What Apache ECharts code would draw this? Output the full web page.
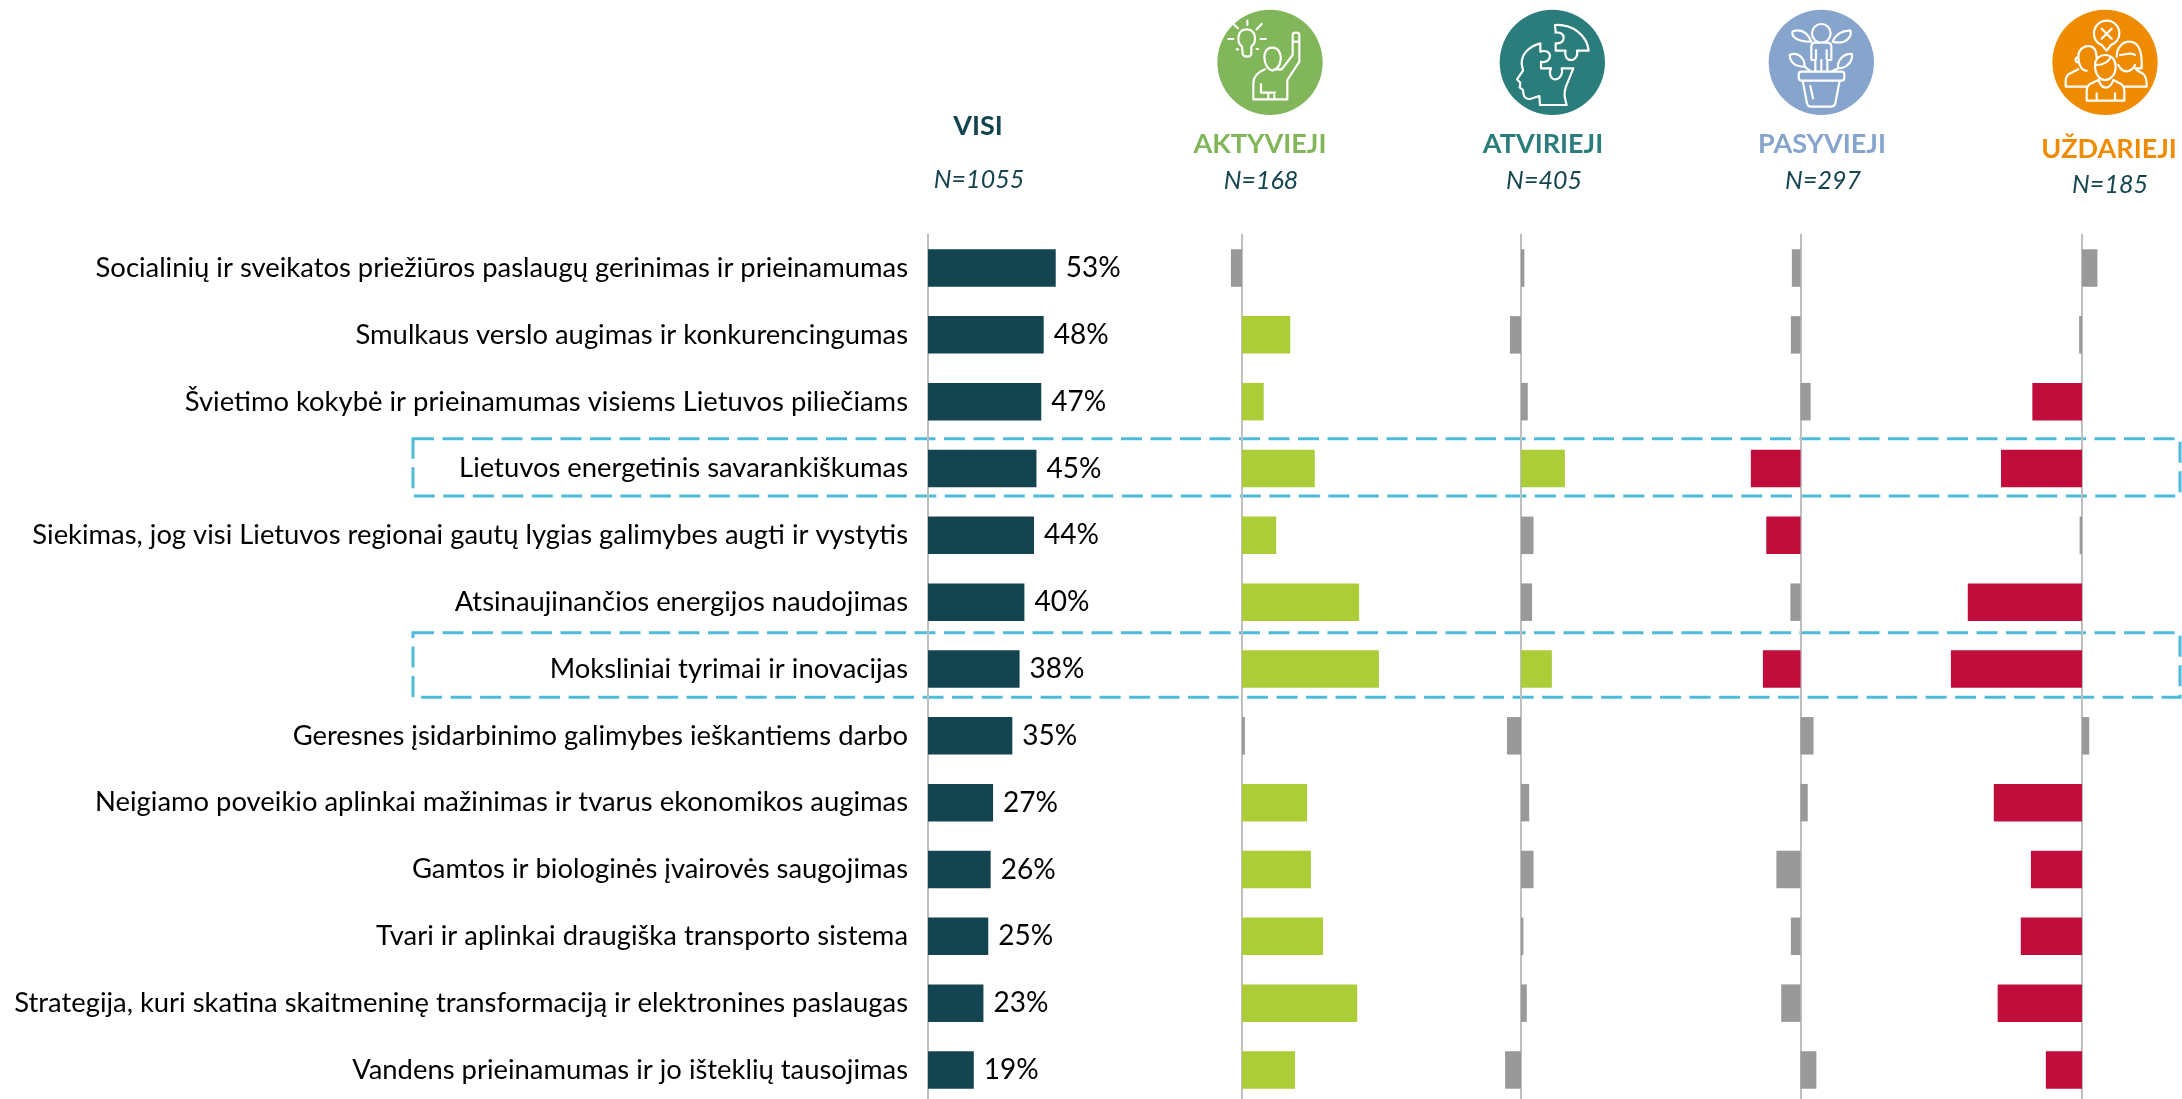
<!DOCTYPE html>
<html><head><meta charset="utf-8">
<style>html,body{margin:0;padding:0;background:#fff;overflow:hidden;height:1099px}#c{width:2182px;height:1120px}</style>
<script src="https://cdn.jsdelivr.net/npm/echarts@6/dist/echarts.min.js"></script>
</head><body><div id="c"></div>
<script>
const categories = [
 "Socialinių ir sveikatos priežiūros paslaugų gerinimas ir prieinamumas",
 "Smulkaus verslo augimas ir konkurencingumas",
 "Švietimo kokybė ir prieinamumas visiems Lietuvos piliečiams",
 "Lietuvos energetinis savarankiškumas",
 "Siekimas, jog visi Lietuvos regionai gautų lygias galimybes augti ir vystytis",
 "Atsinaujinančios energijos naudojimas",
 "Moksliniai tyrimai ir inovacijas",
 "Geresnes įsidarbinimo galimybes ieškantiems darbo",
 "Neigiamo poveikio aplinkai mažinimas ir tvarus ekonomikos augimas",
 "Gamtos ir biologinės įvairovės saugojimas",
 "Tvari ir aplinkai draugiška transporto sistema",
 "Strategija, kuri skatina skaitmeninę transformaciją ir elektronines paslaugas",
 "Vandens prieinamumas ir jo išteklių tausojimas"];
const visi      = [53,48,47,45,44,40,38,35,27,26,25,23,19];
const aktyvieji = [-2.3,10,4.5,15.1,7.1,24.3,28.4,0.6,13.5,14.3,16.8,23.9,11];
const atvirieji = [0.7,-2.3,1.4,9.1,2.6,2.3,6.4,-2.9,1.7,2.6,0.5,1.2,-3.3];
const pasyvieji = [-1.8,-2,2.1,-10.3,-7.1,-2.1,-7.8,2.7,1.5,-5,-2,-4,3.3];
const uzdarieji = [3.2,-0.6,-10.3,-16.8,-0.5,-23.7,-27.2,1.5,-18.3,-10.6,-12.7,-17.5,-7.5];

const FONT = 'Lato,"Liberation Sans",sans-serif';
const DARK = '#14444F', GREEN='#ACCC38', RED='#C00D3C', GREY='#999999', AXIS='#BFBFBF';
const GROW_TOP = 234.6, BAND = 66.83, GH = BAND*13;
const PX_VISI = 2.41, PX_DEV = 4.82;
const ICON_A="M96,140 C78,125 82,88 110,88 C138,88 142,125 124,140 L124,160 Q124,170 112,170 Q98,170 98,160 Z M55,117 H70 M152,117 H167 M66,68 L84,85 M112,62 V75 M155,72 L140,88 M80,148 H84 M140,147 H144 M187,143 C165,143 160,165 165,185 C168,198 175,208 187,212 C202,208 210,195 212,180 C214,160 205,143 187,143 Z M165,208 C140,218 130,232 130,250 L130,298 L232,298 L232,240 L268,185 L268,105 Q268,98 258,98 Q248,98 248,105 L248,165 L215,208 L195,208 M248,125 H268 M153,252 V278 H195 M175,278 V298 M193,285 V298";
const ICON_B="M180,75 C232,72 276,105 281,152 L246,152 C250,168 240,180 228,180 C214,180 208,165 212,152 L182,152 L182,130 C195,132 206,125 206,113 C206,102 195,96 182,98 Z M136,130 C105,138 80,160 80,190 C80,200 84,205 84,212 L66,238 L76,248 L74,262 L84,270 C84,285 88,298 105,297 L133,288 L135,315 L215,315 C210,295 205,285 212,262 L235,205 L200,205 C205,225 192,238 180,238 C168,238 160,222 168,205 L138,205 L138,185 C155,190 165,178 165,168 C165,155 150,150 136,155 Z";
const ICON_C="M150,100 A28,28 0 1,0 206,100 A28,28 0 1,0 150,100 Z M160,212 L160,180 L148,180 L148,140 Q148,128 160,128 L195,128 Q208,128 208,140 L208,180 L196,180 L196,212 M178,180 V212 M162,150 V178 M194,150 V178 M148,125 C135,125 110,125 95,110 C88,100 90,92 100,92 C125,88 140,105 148,125 Z M212,125 C220,105 240,90 265,92 C270,105 260,120 245,125 C235,128 222,128 212,125 Z M128,200 C100,200 85,190 83,165 C105,155 128,170 128,200 Z M128,200 L146,214 M228,205 C225,180 245,160 270,162 C272,185 255,205 228,205 Z M228,205 L210,214 M118,215 H240 Q247,215 247,225 V232 Q247,242 240,242 H118 Q110,242 110,232 V225 Q110,215 118,215 Z M122,242 L135,310 Q137,320 147,320 H205 Q218,320 220,310 L233,242 M145,258 L153,295";
const ICON_D="M170,135 C150,128 147,110 147,100 C147,78 165,62 185,62 C205,62 223,78 223,100 C223,120 210,130 198,135 L185,152 Z M170,86 L200,116 M200,86 L170,116 M100,170 C100,150 115,138 130,138 C148,138 155,155 155,175 M125,212 C110,212 100,195 100,170 M100,172 C90,172 88,185 100,188 M100,208 L72,222 Q62,228 62,245 L62,260 L125,260 M215,170 C215,140 235,125 252,125 C280,125 292,150 290,205 L270,205 M225,165 C240,165 258,155 270,165 M220,195 C235,225 260,215 270,195 M275,210 L295,222 Q305,230 305,260 L235,260 M150,195 C150,175 165,165 180,165 C200,165 212,180 212,200 C212,225 195,240 180,240 C165,240 150,225 150,195 Z M155,195 C175,195 190,185 195,175 M160,240 L135,252 Q125,258 125,275 L125,302 L238,302 L238,275 Q238,258 228,252 L205,240 M162,242 C170,270 195,270 205,240 M155,280 V302 M210,280 V302";
const groups = [
 {name:'AKTYVIEJI', n:'N=168', data:aktyvieji, ax:1242, max:30, col:'#81B65B', tx:1260, ty:144, nx:1261, ny:181, ox:1210, cx:180, icon:ICON_A},
 {name:'ATVIRIEJI', n:'N=405', data:atvirieji, ax:1521, max:30, col:'#2B7D7B', tx:1543, ty:144, nx:1544, ny:181, ox:1495, cx:172, icon:ICON_B},
 {name:'PASYVIEJI', n:'N=297', data:pasyvieji, ax:1800.5, max:30, col:'#86A4CC', tx:1822, ty:144, nx:1823, ny:181, ox:1762, cx:178, icon:ICON_C},
 {name:'UŽDARIEJI', n:'N=185', data:uzdarieji, ax:2082, max:20, col:'#EF8B00', tx:2109, ty:149, nx:2110, ny:185, ox:2045, cx:180, icon:ICON_D}];
const devMin=-30;

function devColor(v){ return v>=4.3?GREEN : v<=-6.5?RED : GREY; }

const grid=[{left:928,top:GROW_TOP,width:60*PX_VISI,height:GH}];
const xAxis=[{gridIndex:0,type:'value',min:0,max:60,show:false}];
const yAxis=[{gridIndex:0,type:'category',inverse:true,data:categories,
  axisTick:{show:false},axisLine:{lineStyle:{color:AXIS,width:2}},splitLine:{show:false},
  axisLabel:{interval:0,margin:20,color:'#000',fontFamily:FONT,fontSize:27.4}}];
const series=[{type:'bar',xAxisIndex:0,yAxisIndex:0,data:visi,barWidth:37.5,itemStyle:{color:DARK},
  label:{show:true,position:'right',distance:10,formatter:'{c}%',color:'#000',fontFamily:FONT,fontSize:28}}];
groups.forEach((g,i)=>{
  const k=i+1;
  grid.push({left:g.ax+devMin*PX_DEV,top:GROW_TOP,width:(g.max-devMin)*PX_DEV,height:GH});
  xAxis.push({gridIndex:k,type:'value',min:devMin,max:g.max,show:false});
  yAxis.push({gridIndex:k,type:'category',inverse:true,data:categories,
    axisTick:{show:false},axisLabel:{show:false},splitLine:{show:false},
    axisLine:{onZero:true,lineStyle:{color:AXIS,width:2}}});
  series.push({type:'bar',xAxisIndex:k,yAxisIndex:k,barWidth:37.5,
    data:g.data.map(v=>({value:v,itemStyle:{color:devColor(v)}}))});
});
series.push({type:'custom',coordinateSystem:'none',silent:true,data:[0,1,2,3],
  renderItem(params){
    const g=groups[params.dataIndex];
    return {type:'group',children:[
      {type:'circle',shape:{cx:g.ox+g.cx/3,cy:187/3,r:158/3},style:{fill:g.col}},
      {type:'path',x:g.ox,y:0,scaleX:1/3,scaleY:1/3,shape:{pathData:g.icon},
       style:{fill:'none',stroke:'#fff',lineWidth:6.5,lineJoin:'round',lineCap:'round'}}
    ]};
  }});

function txt(x,y,text,color,size,weight,style){
  return {type:'text',x,y,silent:true,style:{text,fill:color,font:`${style||'normal'} ${weight||'normal'} ${size}px ${FONT}`,textAlign:'center',textVerticalAlign:'middle'}};
}
const graphic=[
  txt(978,126,'VISI',DARK,27,'bold'),
  txt(979,180,'N=1055',DARK,25,'normal','italic'),
  ...groups.flatMap(g=>[txt(g.tx,g.ty,g.name,g.col,27,'bold'),txt(g.nx,g.ny,g.n,DARK,25,'normal','italic')]),
  ...[[438.7,496],[632.7,697.3]].map(([a,b])=>({type:'rect',silent:true,
     shape:{x:413,y:a,width:1767,height:b-a},
     style:{fill:null,stroke:'#4DBBD9',lineWidth:3,lineDash:[21,8.5]}}))
];

const chart=echarts.init(document.getElementById('c'),null,{renderer:'canvas'});
chart.setOption({animation:false,backgroundColor:'#fff',grid,xAxis,yAxis,series,graphic:{elements:graphic}});
</script></body></html>
